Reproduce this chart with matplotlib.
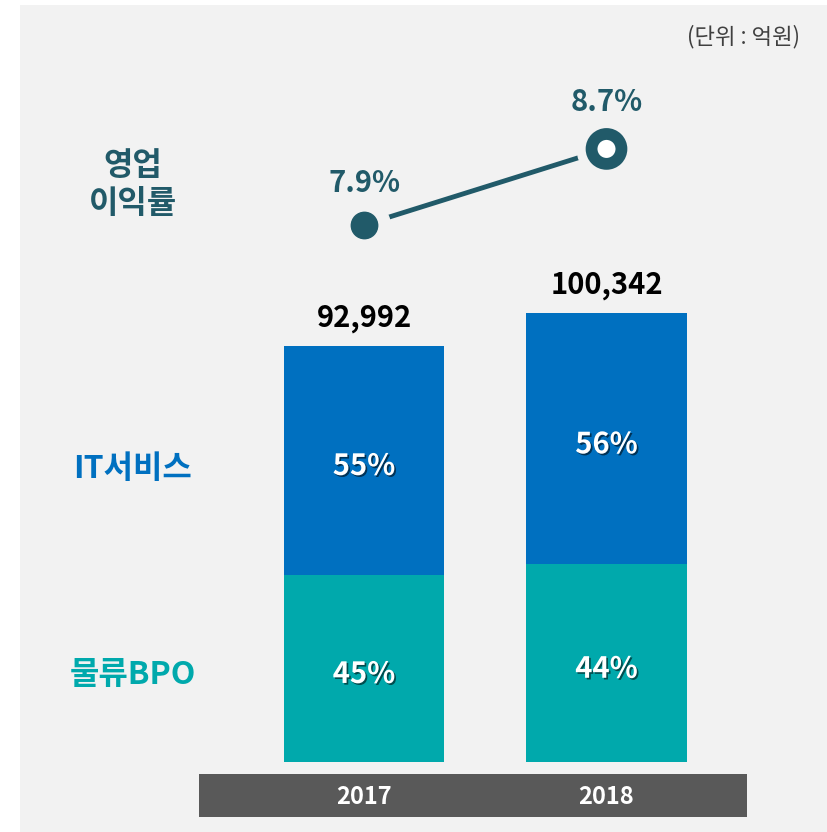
import matplotlib
matplotlib.use("Agg")
import matplotlib.pyplot as plt
import matplotlib.patheffects as pe
from matplotlib.patches import Rectangle

plt.rcParams['font.family'] = ['Noto Sans CJK KR', 'DejaVu Sans']

# data
years = ['2017', '2018']
totals = [92992, 100342]
it_share = [55, 56]
bpo_share = [45, 44]
margin = [7.9, 8.7]
margin_labels = ['7.9%', '8.7%']

BG = '#f2f2f2'
BLUE = '#0070c0'
TEAL = '#00a9ac'
DARK = '#215a69'
BAND = '#595959'

W, H = 827, 832
fig = plt.figure(figsize=(W / 100, H / 100), dpi=100, facecolor='white')


def fx(px):
    return px / W


def fy(py):
    return 1 - py / H


# grey panel
fig.patches.append(Rectangle((fx(20), 0), 1 - fx(20), fy(5), transform=fig.transFigure,
                             facecolor=BG, edgecolor='none', zorder=-10))

# bar axes: category 0 at x=364px, 1 at 606.5px
xlim = (-1.4186, 1.9093)
ax = fig.add_axes([fx(20), fy(762), 1 - fx(20), fy(5) - fy(762)])
ax.set_xlim(*xlim)
ax.set_ylim(0, 169200)
ax.axis('off')

x = [0, 1]
bpo_vals = [t * s / 100 for t, s in zip(totals, bpo_share)]
it_vals = [t - b for t, b in zip(totals, bpo_vals)]
ax.bar(x, bpo_vals, width=0.66, color=TEAL)
ax.bar(x, it_vals, width=0.66, bottom=bpo_vals, color=BLUE)

shadow = [pe.SimplePatchShadow(offset=(1.2, -1.2), shadow_rgbFace='black', alpha=0.55), pe.Normal()]
for i in range(2):
    ax.annotate(f'{totals[i]:,}', (x[i], totals[i]), xytext=(0, 20), textcoords='offset points',
                ha='center', va='center', fontsize=21, fontweight='bold', color='black')
    ax.annotate(f'{it_share[i]}%', (x[i], bpo_vals[i] + it_vals[i] / 2), xytext=(0, -4),
                textcoords='offset points', ha='center', va='center',
                fontsize=21, fontweight='bold', color='white', path_effects=shadow)
    ax.annotate(f'{bpo_share[i]}%', (x[i], bpo_vals[i] / 2), xytext=(0, -4),
                textcoords='offset points', ha='center', va='center',
                fontsize=21, fontweight='bold', color='white', path_effects=shadow)

# operating margin line
ax2 = ax.twinx()
ax2.set_ylim(2.247, 10.215)
ax2.axis('off')
ax2.plot(x, margin, color=DARK, lw=3.5, solid_capstyle='butt', zorder=2)
ax2.plot(x[:1], margin[:1], 'o', ms=37, color=BG, zorder=3)
ax2.plot(x[1:], margin[1:], 'o', ms=42, color=BG, zorder=3)
ax2.plot(x[:1], margin[:1], 'o', ms=19, color=DARK, zorder=4)
ax2.plot(x[1:], margin[1:], 'o', ms=21.5, mfc='white', mec=DARK, mew=8.5, zorder=4,
         path_effects=[pe.SimplePatchShadow(offset=(2.5, -2.5), alpha=0.45), pe.Normal()])
ax2.annotate(margin_labels[0], (x[0], margin[0]), xytext=(0, 30), textcoords='offset points',
             ha='center', va='center', fontsize=21, fontweight='bold', color=DARK)
ax2.annotate(margin_labels[1], (x[1], margin[1]), xytext=(0, 34), textcoords='offset points',
             ha='center', va='center', fontsize=21, fontweight='bold', color=DARK)

# year band
bx = fig.add_axes([fx(199), fy(817), fx(747) - fx(199), fy(774) - fy(817)])
bx.set_xlim((199 - 364) / 242.5, (747 - 364) / 242.5)
bx.set_ylim(0, 1)
bx.set_facecolor(BAND)
bx.set_xticks([])
bx.set_yticks([])
for s in bx.spines.values():
    s.set_visible(False)
for i, yr in enumerate(years):
    bx.text(x[i], 0.47, yr, ha='center', va='center', fontsize=17, fontweight='bold', color='white')

# side labels
fig.text(fx(133), fy(185), '영업\n이익률', ha='center', va='center', multialignment='center',
         fontsize=23, fontweight='bold', color=DARK, linespacing=1.2)
fig.text(fx(133), fy(469), 'IT서비스', ha='center', va='center', fontsize=23,
         fontweight='bold', color=BLUE)
fig.text(fx(133), fy(675), '물류BPO', ha='center', va='center', fontsize=23,
         fontweight='bold', color=TEAL)
fig.text(fx(800), fy(37), '(단위 : 억원)', ha='right', va='center', fontsize=16, color='#404040')

fig.savefig('out.png', dpi=100, facecolor='white')
